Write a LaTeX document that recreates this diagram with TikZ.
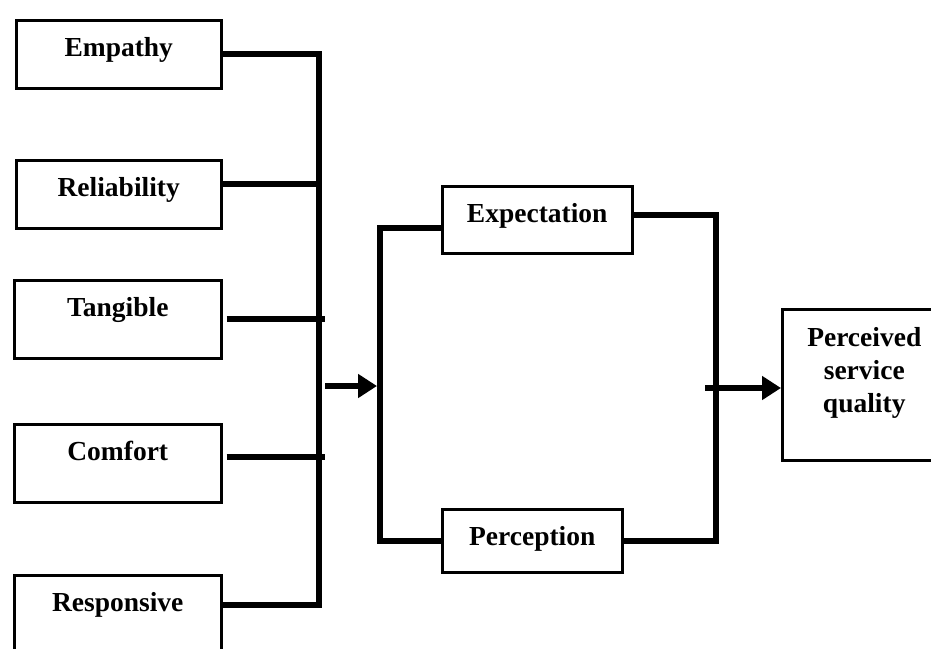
\documentclass[tikz,border=0pt]{standalone}
\usepackage{fontspec}
\setmainfont{Liberation Serif}
\usetikzlibrary{arrows.meta}

\begin{document}
\begin{tikzpicture}[x=1pt,y=-1pt,
		box/.style={draw, line width=2.5pt, inner sep=0pt, anchor=north west, align=center, text height=36pt, font=\fontsize{27.5}{33}\selectfont\bfseries},
		link/.style={line width=6pt},
		flow/.style={line width=6pt, -{Triangle[length=19pt,width=23pt]}}]
			\useasboundingbox (0,0) rectangle (931,648);
			\clip (0,0) rectangle (931,648);
			
			\node[box, minimum width=205pt, text depth=32pt] (empathy) at (15,19) {Empathy};
			\node[box, minimum width=205pt, text depth=32pt] (reliability) at (15,159) {Reliability};
			\node[box, minimum width=207pt, text depth=42pt] (tangible) at (13,279) {Tangible};
			\node[box, minimum width=207pt, text depth=42pt] (comfort) at (13,423) {Comfort};
			\node[box, minimum width=207pt, text depth=80pt] (responsive) at (13,574) {Responsive};
			
			\node[box, minimum width=190pt, text depth=31pt] (expectation) at (441,185) {Expectation};
			\node[box, minimum width=180pt, text depth=27pt] (perception) at (441,508) {Perception};
			\node[box, minimum width=164pt, text height=103pt, text depth=48pt] (quality) at (781,308) {Perceived\\service\\quality};
			
			\coordinate (busBot) at (319,605);
			\coordinate (stub) at (325,0);
			\coordinate (split) at (380,386);
			\coordinate (merge) at (716,388);
			\coordinate (relJoin) at ([yshift=10pt]reliability.east);
			\coordinate (comJoin) at ([yshift=6pt,xshift=4pt]comfort.east);
			\coordinate (expJoin) at ([yshift=-8pt]expectation.west);
			\coordinate (expOut) at ([yshift=5pt]expectation.east);
			
			\draw [link] (empathy.east) -| (busBot) -- (responsive.east |- busBot);
			\draw [link] (relJoin) -- (relJoin -| busBot);
			\draw [link] ([xshift=4pt]tangible.east) -- (tangible.east -| stub);
			\draw [link] (comJoin) -- (comJoin -| stub);
			\draw [flow] (stub |- split) -- ([xshift=-3pt]split);
			
			\draw [link] (expJoin) -| (split) |- (perception.west);
			\draw [link] (expOut) -| (merge) |- (perception.east);
			\draw [flow] ([xshift=-11pt]merge) -- (merge -| quality.west);
		\end{tikzpicture}
\end{document}
